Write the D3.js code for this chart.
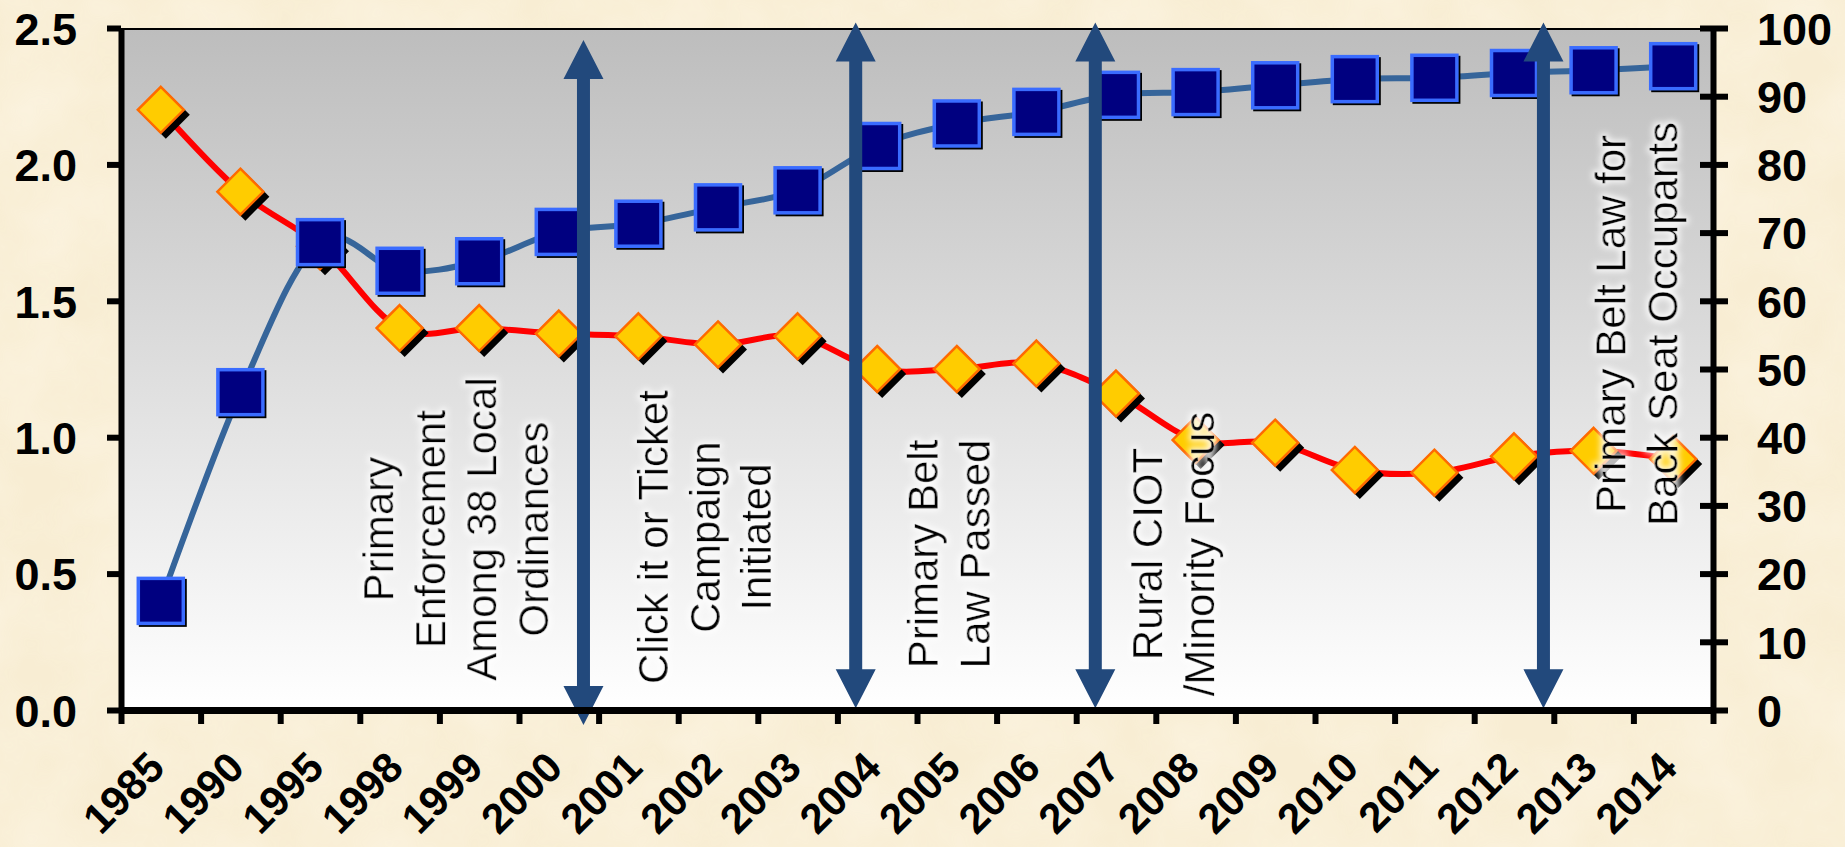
<!DOCTYPE html>
<html lang="en">
<head>
<meta charset="UTF-8">
<title>Belt use and fatality rate</title>
<style>
  html, body { margin: 0; padding: 0; background: #f8edd3; }
  svg { display: block; }
  .tick text { font-family: "Liberation Sans", Arial, sans-serif; font-weight: bold; }
  .note { font-family: "Liberation Sans", Arial, sans-serif; font-size: 42px; fill: #000; }
</style>
</head>
<body>
<svg id="chart" width="1845" height="847"></svg>
<script src="https://d3js.org/d3.v7.min.js"></script>
<script>
// categories on the x axis
var years = ["1985", "1990", "1995", "1998", "1999", "2000", "2001", "2002", "2003", "2004",
             "2005", "2006", "2007", "2008", "2009", "2010", "2011", "2012", "2013", "2014"];

// left axis series (red line, diamonds)
var rateValues = [2.2, 1.9, 1.7, 1.4, 1.4, 1.38, 1.37, 1.34, 1.37, 1.25,
                  1.25, 1.27, 1.16, 0.99, 0.98, 0.88, 0.87, 0.93, 0.95, 0.92];

// right axis series (blue line, squares)
var beltValues = [16, 46.6, 68.6, 64.4, 65.8, 70.1, 71.3, 73.7, 76.2, 82.7,
                  86.0, 87.7, 90.2, 90.6, 91.6, 92.5, 92.7, 93.4, 93.8, 94.4];

var leftTicks = [0, 0.5, 1.0, 1.5, 2.0, 2.5];
var rightTicks = [0, 10, 20, 30, 40, 50, 60, 70, 80, 90, 100];

// event arrows, position in category units, extent in left-axis units
var eventPos = [5.81, 9.23, 12.24, 17.87];
var eventTop = [2.456, 2.52, 2.52, 2.52];
var eventBottom = [-0.055, 0.006, 0.006, 0.006];

// event notes
var noteLines = [
  ["Primary", "Enforcement", "Among 38 Local", "Ordinances"],
  ["Click it or Ticket", "Campaign", "Initiated"],
  ["Primary Belt", "Law Passed"],
  ["Rural CIOT", "/Minority Focus"],
  ["Primary Belt Law for", "Back Seat Occupants"]
];
var notePos = [3.42, 6.87, 10.26, 13.08, 18.9];
var noteMid = [0.663, 0.634, 0.572, 0.572, 1.415];

var plotL = 121, plotR = 1713, plotT = 28, plotB = 710;

var svg = d3.select("#chart");
var defs = svg.append("defs");

// parchment texture
var paper = defs.append("filter").attr("id", "paper").attr("x", 0).attr("y", 0).attr("width", "100%").attr("height", "100%");
paper.append("feTurbulence").attr("type", "fractalNoise").attr("baseFrequency", 0.012).attr("numOctaves", 4).attr("seed", 3);
paper.append("feColorMatrix").attr("type", "matrix")
  .attr("values", "0 0 0 0 0.99  0 0 0 0 0.95  0 0 0 0 0.84  0 0 0 0.9 -0.25");
paper.append("feComposite").attr("in2", "SourceGraphic").attr("operator", "in");

var grad = defs.append("linearGradient").attr("id", "plotbg").attr("x1", 0).attr("y1", 0).attr("x2", 0).attr("y2", 1);
grad.append("stop").attr("offset", "0%").attr("stop-color", "#bdbdbd");
grad.append("stop").attr("offset", "100%").attr("stop-color", "#ffffff");

// white halo around notes
var glow = defs.append("filter").attr("id", "glow").attr("x", "-20%").attr("y", "-20%").attr("width", "140%").attr("height", "140%");
glow.append("feMorphology").attr("in", "SourceAlpha").attr("operator", "dilate").attr("radius", 2).attr("result", "d");
glow.append("feGaussianBlur").attr("in", "d").attr("stdDeviation", 3).attr("result", "b");
glow.append("feFlood").attr("flood-color", "#ffffff").attr("flood-opacity", 0.9);
glow.append("feComposite").attr("in2", "b").attr("operator", "in").attr("result", "g");
var merge = glow.append("feMerge");
merge.append("feMergeNode").attr("in", "g");
merge.append("feMergeNode").attr("in", "SourceGraphic");

svg.append("rect").attr("width", 1845).attr("height", 847).attr("fill", "#f8edd3");
svg.append("rect").attr("width", 1845).attr("height", 847).attr("fill", "#fff").attr("filter", "url(#paper)").attr("opacity", 0.8);

var x = d3.scaleBand().domain(years).range([plotL, plotR]);
var xi = d3.scaleLinear().domain([0, years.length]).range([plotL, plotR]);
var yL = d3.scaleLinear().domain([0, 2.5]).range([plotB, plotT]);
var yR = d3.scaleLinear().domain([0, 100]).range([plotB, plotT]);

// plot area
svg.append("rect")
  .attr("x", plotL).attr("y", plotT)
  .attr("width", plotR - plotL).attr("height", plotB - plotT)
  .attr("fill", "url(#plotbg)");
svg.append("line")
  .attr("x1", plotL).attr("x2", plotR).attr("y1", plotT + 1).attr("y2", plotT + 1)
  .attr("stroke", "#000").attr("stroke-width", 2);

var cx = function(d, i) { return x(years[i]) + x.bandwidth() / 2; };

// red series
var lineL = d3.line().x(cx).y(function(d) { return yL(d); }).curve(d3.curveCardinal.tension(0));
svg.append("path").datum(rateValues)
  .attr("d", lineL).attr("fill", "none").attr("stroke", "#ff0000").attr("stroke-width", 6);

var diamond = function(r) { return "M0," + (-r) + "L" + r + ",0L0," + r + "L" + (-r) + ",0Z"; };
var dm = svg.append("g").selectAll("g").data(rateValues).enter().append("g")
  .attr("transform", function(d, i) { return "translate(" + cx(d, i) + "," + yL(d) + ")"; });
dm.append("path").attr("d", diamond(24)).attr("transform", "translate(5,5)").attr("fill", "#000");
dm.append("path").attr("d", diamond(23)).attr("fill", "#ffcc00").attr("stroke", "#ff6a00").attr("stroke-width", 2.5);

// blue series
var lineR = d3.line().x(cx).y(function(d) { return yR(d); }).curve(d3.curveCardinal.tension(0));
svg.append("path").datum(beltValues)
  .attr("d", lineR).attr("fill", "none").attr("stroke", "#36659a").attr("stroke-width", 6);

var sq = svg.append("g").selectAll("g").data(beltValues).enter().append("g")
  .attr("transform", function(d, i) { return "translate(" + cx(d, i) + "," + yR(d) + ")"; });
sq.append("rect").attr("x", -22).attr("y", -22).attr("width", 48).attr("height", 48).attr("fill", "#000");
sq.append("rect").attr("x", -22.5).attr("y", -22.5).attr("width", 45).attr("height", 45)
  .attr("fill", "#000080").attr("stroke", "#3a6cff").attr("stroke-width", 3.5);

// event arrows
var shaft = 6.5, head = 20, headLen = 39;
svg.append("g").selectAll("path").data(eventPos).enter().append("path")
  .attr("fill", "#22497c")
  .attr("d", function(d, i) {
    var ax = xi(d), t = yL(eventTop[i]), b = yL(eventBottom[i]);
    return "M" + ax + "," + t +
      "L" + (ax + head) + "," + (t + headLen) + "L" + (ax + shaft) + "," + (t + headLen) +
      "L" + (ax + shaft) + "," + (b - headLen) + "L" + (ax + head) + "," + (b - headLen) +
      "L" + ax + "," + b +
      "L" + (ax - head) + "," + (b - headLen) + "L" + (ax - shaft) + "," + (b - headLen) +
      "L" + (ax - shaft) + "," + (t + headLen) + "L" + (ax - head) + "," + (t + headLen) + "Z";
  });

// notes, rotated
var notes = svg.append("g").selectAll("text").data(noteLines).enter().append("text")
  .attr("class", "note")
  .attr("filter", "url(#glow)")
  .attr("text-anchor", "middle")
  .attr("transform", function(d, i) { return "translate(" + xi(notePos[i]) + "," + yL(noteMid[i]) + ") rotate(-90)"; });
notes.selectAll("tspan").data(function(d) { return d; }).enter().append("tspan")
  .attr("x", 0).attr("y", function(d, j) { return j * 51.5; })
  .text(function(d) { return d; });

// left axis
var gL = svg.append("g").attr("transform", "translate(" + plotL + ",0)")
  .call(d3.axisLeft(yL).tickValues(leftTicks).tickFormat(d3.format(".1f")).tickSize(14).tickSizeOuter(0).tickPadding(30));
gL.select(".domain").attr("stroke-width", 6);
gL.selectAll(".tick line").attr("stroke-width", 6);
gL.selectAll(".tick text").attr("font-size", 45).attr("dy", "0.36em");

// right axis
var gR = svg.append("g").attr("transform", "translate(" + plotR + ",0)")
  .call(d3.axisRight(yR).tickValues(rightTicks).tickSize(15).tickSizeOuter(0).tickPadding(29));
gR.select(".domain").attr("stroke-width", 6);
gR.selectAll(".tick line").attr("x1", -13).attr("stroke-width", 6);
gR.selectAll(".tick text").attr("font-size", 45).attr("dy", "0.36em");

// bottom axis: ticks between categories, labels at centres
var gB = svg.append("g").attr("transform", "translate(0," + plotB + ")")
  .call(d3.axisBottom(xi).tickValues(d3.range(years.length + 1)).tickFormat("").tickSize(14).tickSizeOuter(0));
gB.select(".domain").attr("stroke-width", 7);
gB.selectAll(".tick line").attr("stroke-width", 6);

svg.append("g").selectAll("text").data(years).enter().append("text")
  .attr("transform", function(d) { return "translate(" + (x(d) + x.bandwidth() / 2 + 6) + "," + (plotB + 60) + ") rotate(-45)"; })
  .attr("text-anchor", "end")
  .attr("font-family", "Liberation Sans, Arial, sans-serif")
  .attr("font-weight", "bold")
  .attr("font-size", 42)
  .text(function(d) { return d; });
</script>
</body>
</html>
